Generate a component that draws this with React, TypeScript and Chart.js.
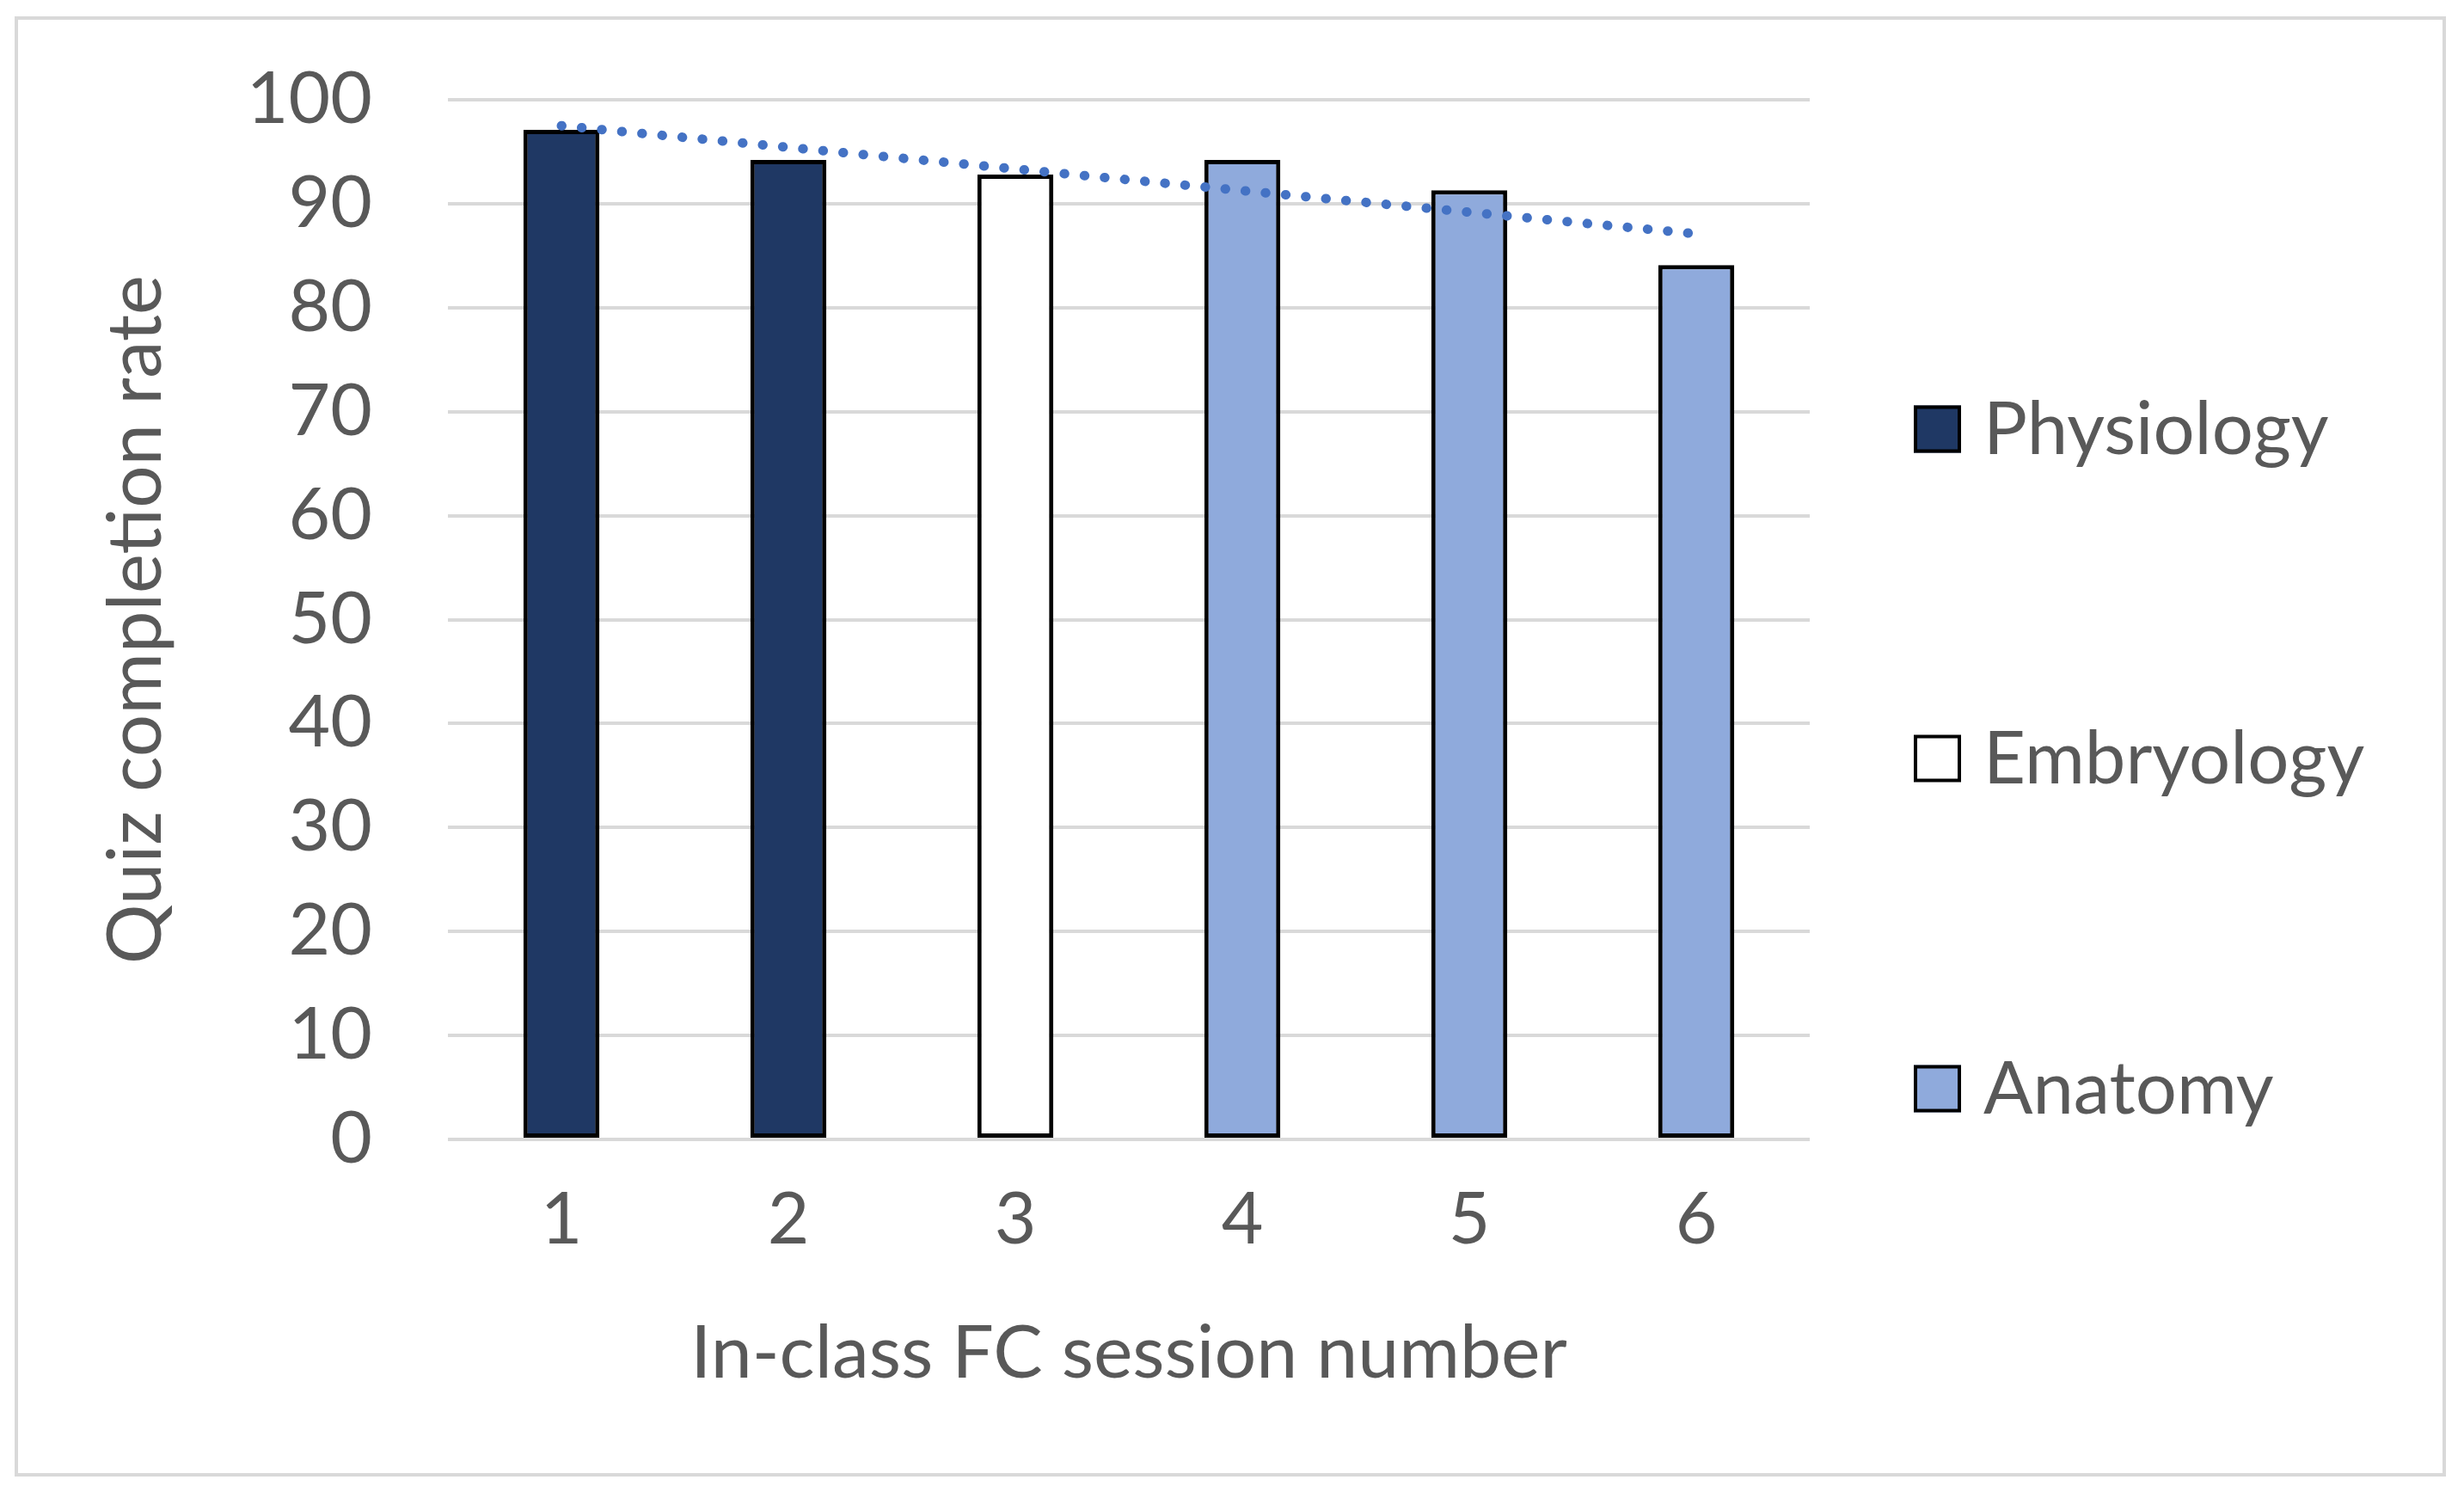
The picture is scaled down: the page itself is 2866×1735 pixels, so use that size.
import React, { useEffect, useRef } from "react";
import { Chart, registerables } from "chart.js";

Chart.register(...registerables);

const categories = ["1", "2", "3", "4", "5", "6"];
const physiology = [97.1, 94.2, null, null, null, null];
const embryology = [null, null, 92.8, null, null, null];
const anatomy = [null, null, null, 94.2, 91.3, 84.1];
const trendEnds = [97.5, null, null, null, null, 87.1];
const yTickValues = [0, 10, 20, 30, 40, 50, 60, 70, 80, 90, 100];

const W = 2850;
const H = 1719;
const FONT = "Lato, 'Open Sans', sans-serif";
const TEXT = "#595959";
const AREA_TOP = 108;
const AREA_BOTTOM = 1317;
const AREA_LEFT = 513;
const AREA_RIGHT = 2097;

const frameAndLegend = {
  id: "frameAndLegend",
  beforeDraw(chart: any) {
    const ctx = chart.ctx;
    ctx.save();
    ctx.fillStyle = "#ffffff";
    ctx.fillRect(0, 0, chart.width, chart.height);
    ctx.strokeStyle = "#d9d9d9";
    ctx.lineWidth = 4;
    ctx.strokeRect(11, 13, 2824, 1694);
    ctx.restore();
  },
  afterDraw(chart: any) {
    const ctx = chart.ctx;
    const items = chart.data.datasets.filter((d: any) => d.type !== "line");
    const boxX = 2218;
    const box = 55;
    const centers = [491, 874, 1258];
    ctx.save();
    ctx.font = `85px ${FONT}`;
    ctx.textBaseline = "middle";
    ctx.textAlign = "left";
    items.forEach((d: any, i: number) => {
      const cy = centers[i];
      ctx.fillStyle = d.backgroundColor;
      ctx.fillRect(boxX, cy - box / 2, box, box);
      ctx.strokeStyle = "#000000";
      ctx.lineWidth = 4;
      ctx.strokeRect(boxX + 2, cy - box / 2 + 2, box - 4, box - 4);
      ctx.fillStyle = TEXT;
      ctx.fillText(d.label, 2299, cy + 2);
    });
    ctx.restore();
  },
};

export default function App() {
  const ref = useRef<HTMLCanvasElement | null>(null);

  useEffect(() => {
    if (!ref.current) return;
    const barCommon = {
      type: "bar" as const,
      grouped: false,
      borderColor: "#000000",
      borderWidth: 5,
      borderSkipped: false,
      barPercentage: 0.335,
      categoryPercentage: 1,
      order: 1,
    };
    const chart = new Chart(ref.current, {
      type: "bar",
      data: {
        labels: categories,
        datasets: [
          { ...barCommon, label: "Physiology", data: physiology, backgroundColor: "#1f3864" },
          { ...barCommon, label: "Embryology", data: embryology, backgroundColor: "#ffffff" },
          { ...barCommon, label: "Anatomy", data: anatomy, backgroundColor: "#8faadc" },
          {
            type: "line" as const,
            label: "Trend",
            data: trendEnds,
            spanGaps: true,
            borderColor: "#4472c4",
            borderWidth: 11,
            borderDash: [0.5, 23],
            borderCapStyle: "round",
            pointRadius: 0,
            fill: false,
            order: 0,
          } as any,
        ],
      },
      options: {
        responsive: false,
        animation: false,
        layout: { padding: { top: AREA_TOP, right: W - AREA_RIGHT, bottom: 0, left: 0 } },
        plugins: {
          legend: { display: false },
          tooltip: { enabled: false },
          title: { display: false },
        },
        scales: {
          x: {
            grid: { display: false },
            border: { display: false },
            ticks: { color: TEXT, font: { family: FONT, size: 84 }, padding: 36 },
            title: {
              display: true,
              text: "In-class FC session number",
              color: TEXT,
              font: { family: FONT, size: 86 },
              padding: { top: 0, bottom: 101 },
            },
            afterFit(scale: any) {
              scale.height = H - AREA_BOTTOM;
              scale.paddingLeft = 0;
              scale.paddingRight = 0;
            },
          },
          y: {
            min: 0,
            max: 100,
            afterBuildTicks(scale: any) {
              scale.ticks = yTickValues.map((v) => ({ value: v }));
            },
            grid: { color: "#d9d9d9", lineWidth: 4, drawTicks: false },
            border: { display: false },
            ticks: { color: TEXT, font: { family: FONT, size: 84 }, padding: 88 },
            title: {
              display: true,
              text: "Quiz completion rate",
              color: TEXT,
              font: { family: FONT, size: 87 },
              padding: { top: 99, bottom: 0 },
            },
            afterFit(scale: any) {
              scale.width = AREA_LEFT;
              scale.paddingTop = 0;
              scale.paddingBottom = 0;
            },
          },
        },
      },
      plugins: [frameAndLegend],
    });
    return () => chart.destroy();
  }, []);

  return (
    <div style={{ width: W, height: H }}>
      <canvas ref={ref} width={W} height={H} style={{ display: "block", width: W, height: H }} />
    </div>
  );
}
